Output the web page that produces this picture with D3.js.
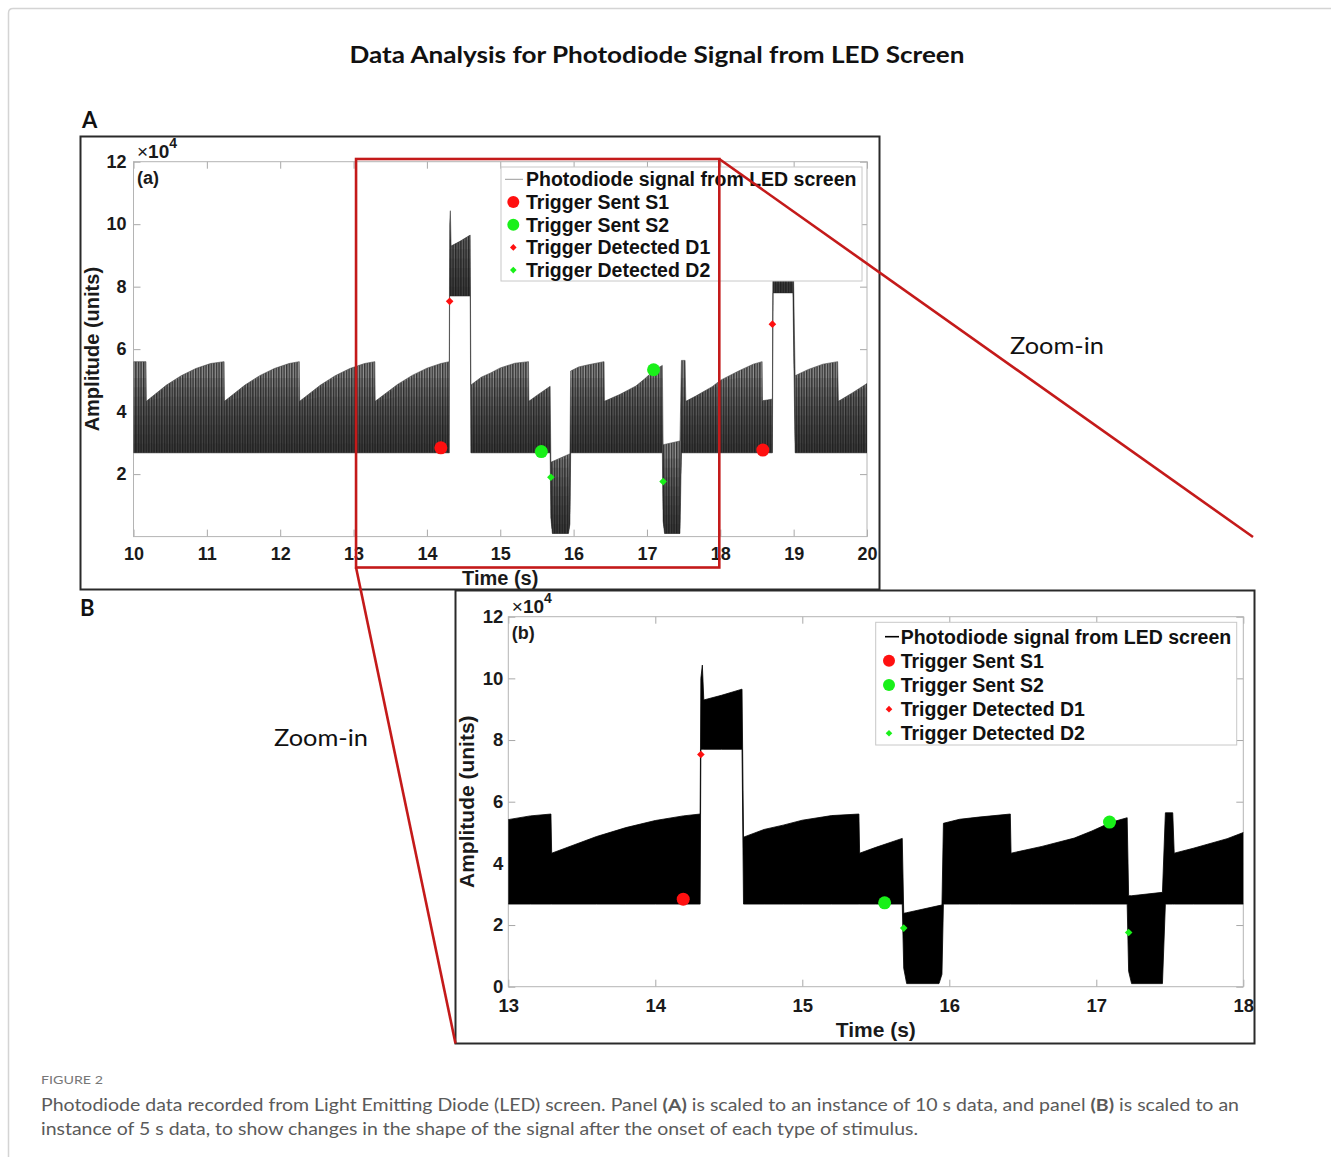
<!DOCTYPE html>
<html>
<head>
<meta charset="utf-8">
<script src="https://cdn.jsdelivr.net/npm/d3@7"></script>
<style>
  body { margin: 0; background: #fff; }
  svg { display: block; }
  .tick line { stroke: #a8a8a8; }
</style>
</head>
<body>
<script>
// Photodiode flicker envelope: time (s), lower and upper bound of the signal (x10^4 units)
const sigTime = [10.00, 10.17, 10.175, 10.45, 10.65, 10.85, 11.05, 11.235,
  11.24, 11.52, 11.72, 11.92, 12.12, 12.26,
  12.265, 12.55, 12.75, 12.95, 13.15, 13.29,
  13.295, 13.60, 13.80, 14.00, 14.19, 14.305,
  14.31, 14.32, 14.33, 14.45, 14.59,
  14.60, 14.74, 14.87, 15.00, 15.20, 15.385,
  15.39, 15.50, 15.68,
  15.69, 15.71, 15.93, 15.95,
  15.96, 16.07, 16.20, 16.415,
  16.42, 16.63, 16.85, 16.97, 17.10, 17.21,
  17.22, 17.24, 17.45,
  17.47, 17.52,
  17.53, 17.66, 17.89, 18.00, 18.25, 18.45, 18.57,
  18.575, 18.71,
  18.72, 18.73, 18.74, 18.99,
  19.02, 19.20, 19.40, 19.60,
  19.61, 19.80, 20.00];
const sigLow = [2.68, 2.68, 2.68, 2.68, 2.68, 2.68, 2.68, 2.68,
  2.68, 2.68, 2.68, 2.68, 2.68, 2.68,
  2.68, 2.68, 2.68, 2.68, 2.68, 2.68,
  2.68, 2.68, 2.68, 2.68, 2.68, 2.68,
  7.70, 7.70, 7.70, 7.70, 7.70,
  2.68, 2.68, 2.68, 2.68, 2.68, 2.68,
  2.68, 2.68, 2.68,
  0.60, 0.10, 0.10, 0.40,
  2.68, 2.68, 2.68, 2.68,
  2.68, 2.68, 2.68, 2.68, 2.68, 2.68,
  0.50, 0.10, 0.10,
  2.68, 2.68,
  2.68, 2.68, 2.68, 2.68, 2.68, 2.68, 2.68,
  2.68, 2.68,
  7.80, 7.80, 7.80, 7.80,
  2.68, 2.68, 2.68, 2.68,
  2.68, 2.68, 2.68];
const sigHigh = [5.60, 5.60, 4.33, 4.85, 5.15, 5.38, 5.54, 5.60,
  4.33, 4.85, 5.15, 5.38, 5.54, 5.60,
  4.33, 4.85, 5.15, 5.38, 5.54, 5.60,
  4.33, 4.87, 5.16, 5.39, 5.54, 5.60,
  10.00, 10.43, 9.30, 9.45, 9.65,
  4.85, 5.10, 5.24, 5.40, 5.55, 5.60,
  4.33, 4.52, 4.81,
  2.38, 2.40, 2.63, 2.65,
  5.30, 5.43, 5.50, 5.60,
  4.33, 4.55, 4.82, 5.05, 5.33, 5.48,
  2.95, 2.95, 3.06,
  5.64, 5.64,
  4.33, 4.49, 4.80, 5.00, 5.30, 5.52, 5.60,
  4.35, 4.40,
  10.00, 10.40, 9.30, 9.60,
  5.15, 5.35, 5.52, 5.60,
  4.33, 4.60, 4.90];

// Trigger events (time in s, amplitude in x10^4 units)
const s1Time = [14.19, 18.58], s1Amp = [2.84, 2.77];
const s2Time = [15.56, 17.09], s2Amp = [2.72, 5.34];
const d1Time = [14.31, 18.71], d1Amp = [7.53, 6.80];
const d2Time = [15.69, 17.22], d2Amp = [1.90, 1.76];

const legendLabels = ["Photodiode signal from LED screen", "Trigger Sent S1", "Trigger Sent S2",
  "Trigger Detected D1", "Trigger Detected D2"];

const xTicksA = [10, 11, 12, 13, 14, 15, 16, 17, 18, 19, 20];
const yTicksA = [2, 4, 6, 8, 10, 12];
const xTicksB = [13, 14, 15, 16, 17, 18];
const yTicksB = [0, 2, 4, 6, 8, 10, 12];

const RED = "#ff1010", GREEN = "#19f019";
const AX_FONT = "'Liberation Sans', Arial, Helvetica, sans-serif";

const signal = sigTime.map((t, i) => ({ t, lo: sigLow[i], hi: sigHigh[i] }));
const pts = (ts, vs) => ts.map((t, i) => ({ t, v: vs[i] }));

const svg = d3.select("body").append("svg").attr("width", 1331).attr("height", 1157);
const defs = svg.append("defs");

// fine vertical striping for the overview panel (individual flicker cycles)
const pat = defs.append("pattern").attr("id", "stripes").attr("patternUnits", "userSpaceOnUse")
  .attr("width", 2.6).attr("height", 20);
pat.append("rect").attr("width", 2.6).attr("height", 20).attr("fill", "#959595");
pat.append("rect").attr("width", 1.4).attr("height", 20).attr("fill", "#333");

// card outline
svg.append("path").attr("d", "M8.5,1157 L8.5,13 Q8.5,8.5 13,8.5 L1331,8.5")
  .attr("fill", "none").attr("stroke", "#d4d4d4").attr("stroke-width", 1.5);

// title
svg.append("text").attr("x", 657).attr("y", 63).attr("text-anchor", "middle")
  .attr("font-family", "Lato, 'Open Sans', sans-serif").attr("font-weight", 700)
  .attr("font-size", 23).attr("textLength", 615).attr("lengthAdjust", "spacingAndGlyphs")
  .attr("fill", "#111").text("Data Analysis for Photodiode Signal from LED Screen");

svg.append("text").attr("x", 82).attr("y", 128).attr("font-family", "Lato, sans-serif")
  .attr("font-weight", 700).attr("font-size", 22).attr("fill", "#111").text("A");
svg.append("text").attr("x", 80).attr("y", 616).attr("font-family", "Lato, sans-serif")
  .attr("font-weight", 700).attr("font-size", 22).attr("fill", "#111").text("B");

const panels = [
  { id: "A", frame: [80.5, 136.5, 799, 453], xDomain: [10, 20], x0: 133.5, x1: 867, yTop: 161.7, yBot: 536.6,
    xTicks: xTicksA, yTicks: yTicksA, tag: "(a)", xPad: 10.5, yPad: 7, tickFs: 18, labFs: 20,
    timeY: 585, ampX: 99, legend: { x: 501, y: 167, w: 361, h: 114, first: 12.3, step: 22.7, mx: 513.3, lx: [505, 523], tx: 526 },
    lineColor: "#9a9a9a", lineW: 1, dotR: 6.5, diaR: 3.8 },
  { id: "B", frame: [455.5, 590.5, 799, 453], xDomain: [13, 18], x0: 508.3, x1: 1243.3, yTop: 616.7, yBot: 986.7,
    xTicks: xTicksB, yTicks: yTicksB, tag: "(b)", xPad: 12, yPad: 5, tickFs: 18.5, labFs: 21,
    timeY: 1037, ampX: 474, legend: { x: 875.7, y: 622.3, w: 361, h: 122.7, first: 14.4, step: 24.15, mx: 889, lx: [885, 899], tx: 900.7 },
    lineColor: "#000", lineW: 1.6, dotR: 6.5, diaR: 3.8 }
];

const diamond = r => `M0,${-r}L${r},0L0,${r}L${-r},0Z`;

panels.forEach(p => {
  const g = svg.append("g");
  const x = d3.scaleLinear().domain(p.xDomain).range([p.x0, p.x1]);
  const y = d3.scaleLinear().domain([0, 12]).range([p.yBot, p.yTop]);
  p.x = x; p.y = y;

  // axes box with inward ticks on all four sides
  const tickText = sel => sel.selectAll("text").attr("font-family", AX_FONT).attr("font-weight", 700)
    .attr("font-size", p.tickFs).attr("fill", "#1a1a1a");
  const gxB = g.append("g").attr("transform", `translate(0,${p.yBot})`)
    .call(d3.axisBottom(x).tickValues(p.xTicks).tickSize(-7).tickPadding(p.xPad).tickFormat(d3.format("d")));
  gxB.call(tickText);
  const gyL = g.append("g").attr("transform", `translate(${p.x0},0)`)
    .call(d3.axisLeft(y).tickValues(p.yTicks).tickSize(-7).tickPadding(p.yPad).tickFormat(d3.format("d")));
  gyL.call(tickText);
  g.append("g").attr("transform", `translate(0,${p.yTop})`)
    .call(d3.axisTop(x).tickValues(p.xTicks).tickSize(-7).tickFormat(""));
  g.append("g").attr("transform", `translate(${p.x1},0)`)
    .call(d3.axisRight(y).tickValues(p.yTicks).tickSize(-7).tickFormat(""));
  g.selectAll(".domain").remove();
  g.append("rect").attr("x", p.x0).attr("y", p.yTop).attr("width", p.x1 - p.x0).attr("height", p.yBot - p.yTop)
    .attr("fill", "none").attr("stroke", "#b4b4b4").attr("stroke-width", 1);

  // signal
  defs.append("clipPath").attr("id", "clip" + p.id).append("rect")
    .attr("x", p.x0).attr("y", p.yTop).attr("width", p.x1 - p.x0).attr("height", p.yBot - p.yTop);
  const plot = g.append("g").attr("clip-path", `url(#clip${p.id})`);
  const area = d3.area().x(d => x(d.t)).y0(d => y(d.lo)).y1(d => y(d.hi));
  if (p.id === "A") {
    plot.append("path").datum(signal).attr("d", area).attr("fill", "url(#stripes)")
      .attr("stroke", "#444").attr("stroke-width", 0.6);
    // traces crowd together near the lower bound: stacked translucent layers darken it smoothly
    [0.3, 0.6, 0.9, 1.2, 1.5, 1.8, 2.1, 2.4].forEach(h => {
      plot.append("path").datum(signal)
        .attr("d", d3.area().x(d => x(d.t)).y0(d => y(d.lo)).y1(d => y(Math.min(d.hi, d.lo + h))))
        .attr("fill", "#1a1a1a").attr("opacity", 0.14);
    });
  } else {
    plot.append("path").datum(signal).attr("d", area).attr("fill", "#000")
      .attr("stroke", "#000").attr("stroke-width", 0.8);
  }

  // trigger markers
  const mk = g.append("g").attr("clip-path", `url(#clip${p.id})`);
  mk.selectAll(".s1").data(pts(s1Time, s1Amp)).join("circle")
    .attr("cx", d => x(d.t)).attr("cy", d => y(d.v)).attr("r", p.dotR).attr("fill", RED);
  mk.selectAll(".s2").data(pts(s2Time, s2Amp)).join("circle")
    .attr("cx", d => x(d.t)).attr("cy", d => y(d.v)).attr("r", p.dotR).attr("fill", GREEN);
  mk.selectAll(".d1").data(pts(d1Time, d1Amp)).join("path")
    .attr("transform", d => `translate(${x(d.t)},${y(d.v)})`).attr("d", diamond(p.diaR)).attr("fill", RED);
  mk.selectAll(".d2").data(pts(d2Time, d2Amp)).join("path")
    .attr("transform", d => `translate(${x(d.t)},${y(d.v)})`).attr("d", diamond(p.diaR)).attr("fill", GREEN);

  // exponent and panel tag
  const ex = g.append("text").attr("x", p.x0 + 3.5).attr("y", p.yTop - 4)
    .attr("font-family", AX_FONT).attr("font-size", 19).attr("fill", "#1a1a1a");
  ex.append("tspan").text("\u00d7");
  ex.append("tspan").attr("font-weight", 700).text("10");
  ex.append("tspan").attr("font-weight", 700).attr("font-size", 14).attr("dy", -10).text("4");
  g.append("text").attr("x", p.x0 + 3.5).attr("y", p.yTop + 22.5).attr("font-family", AX_FONT)
    .attr("font-weight", 700).attr("font-size", 18).attr("fill", "#1a1a1a").text(p.tag);

  // axis titles
  g.append("text").attr("x", (p.x0 + p.x1) / 2).attr("y", p.timeY).attr("text-anchor", "middle")
    .attr("font-family", AX_FONT).attr("font-weight", 700).attr("font-size", p.labFs).attr("fill", "#1a1a1a")
    .text("Time (s)");
  g.append("text").attr("transform", `translate(${p.ampX},${(p.yTop + p.yBot) / 2}) rotate(-90)`)
    .attr("text-anchor", "middle").attr("font-family", AX_FONT).attr("font-weight", 700)
    .attr("font-size", p.labFs).attr("fill", "#1a1a1a").text("Amplitude (units)");

  // legend
  const L = p.legend;
  const lg = g.append("g");
  lg.append("rect").attr("x", L.x).attr("y", L.y).attr("width", L.w).attr("height", L.h)
    .attr("fill", "#fff").attr("stroke", "#c8c8c8").attr("stroke-width", 1);
  legendLabels.forEach((lab, i) => {
    const cy = L.y + L.first + i * L.step;
    if (i === 0) {
      lg.append("line").attr("x1", L.lx[0]).attr("x2", L.lx[1]).attr("y1", cy).attr("y2", cy)
        .attr("stroke", p.lineColor).attr("stroke-width", p.lineW);
    } else if (i < 3) {
      lg.append("circle").attr("cx", L.mx).attr("cy", cy).attr("r", 6).attr("fill", i === 1 ? RED : GREEN);
    } else {
      lg.append("path").attr("transform", `translate(${L.mx},${cy})`).attr("d", diamond(3.3))
        .attr("fill", i === 3 ? RED : GREEN);
    }
    lg.append("text").attr("x", L.tx).attr("y", cy).attr("dy", "0.36em").attr("font-family", AX_FONT)
      .attr("font-weight", 700).attr("font-size", 19.5).attr("fill", "#111").text(lab);
  });

  // panel frame
  svg.append("rect").attr("x", p.frame[0]).attr("y", p.frame[1]).attr("width", p.frame[2]).attr("height", p.frame[3])
    .attr("fill", "none").attr("stroke", "#2a2a2a").attr("stroke-width", 2);
});

// zoom-in call-out linking the 13–18 s window of panel A to panel B
const pA = panels[0], pB = panels[1];
const zx0 = pA.x(13) + 2.5, zx1 = pA.x(18) - 1, zy0 = 159, zy1 = 567.5;
const zoomG = svg.append("g").attr("fill", "none").attr("stroke", "#c41a1a").attr("stroke-width", 2.6);
zoomG.append("rect").attr("x", zx0).attr("y", zy0).attr("width", zx1 - zx0).attr("height", zy1 - zy0);
zoomG.append("line").attr("x1", zx1).attr("y1", zy0).attr("x2", 1253).attr("y2", 537);
zoomG.append("line").attr("x1", zx0).attr("y1", zy1).attr("x2", pB.frame[0]).attr("y2", pB.frame[1] + pB.frame[3]);

svg.append("text").attr("x", 1010).attr("y", 354).attr("font-family", "Lato, 'Open Sans', sans-serif")
  .attr("font-size", 24).attr("textLength", 94).attr("lengthAdjust", "spacingAndGlyphs")
  .attr("fill", "#111").text("Zoom-in");
svg.append("text").attr("x", 274).attr("y", 746).attr("font-family", "Lato, 'Open Sans', sans-serif")
  .attr("font-size", 24).attr("textLength", 94).attr("lengthAdjust", "spacingAndGlyphs")
  .attr("fill", "#111").text("Zoom-in");

// caption
const CAP = "Lato, 'Open Sans', sans-serif";
svg.append("text").attr("x", 41).attr("y", 1084).attr("font-family", CAP).attr("font-size", 12)
  .attr("textLength", 62).attr("lengthAdjust", "spacingAndGlyphs").attr("fill", "#777").text("FIGURE 2");
const c1 = svg.append("text").attr("x", 41).attr("y", 1111).attr("font-family", CAP).attr("font-size", 17.5)
  .attr("textLength", 1198).attr("lengthAdjust", "spacingAndGlyphs").attr("fill", "#5a5a5a");
c1.append("tspan").text("Photodiode data recorded from Light Emitting Diode (LED) screen. Panel ");
c1.append("tspan").attr("font-weight", 700).text("(A)");
c1.append("tspan").text(" is scaled to an instance of 10 s data, and panel ");
c1.append("tspan").attr("font-weight", 700).text("(B)");
c1.append("tspan").text(" is scaled to an");
svg.append("text").attr("x", 41).attr("y", 1135).attr("font-family", CAP).attr("font-size", 17.5)
  .attr("textLength", 877).attr("lengthAdjust", "spacingAndGlyphs").attr("fill", "#5a5a5a")
  .text("instance of 5 s data, to show changes in the shape of the signal after the onset of each type of stimulus.");
</script>
</body>
</html>
